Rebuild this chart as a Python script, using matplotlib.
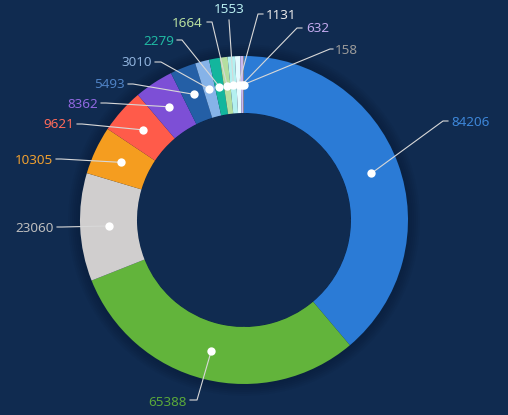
import matplotlib.pyplot as plt
import numpy as np

# slice values, clockwise from 12 o'clock
values = [84206, 65388, 23060, 10305, 9621, 8362, 5493, 3010, 2279, 1664, 1553, 1131, 632, 158]
slice_colors = ["#2b7bd6", "#62b43b", "#d0cece", "#f59d1f", "#ff5b4a", "#7d4fd6", "#245fa6",
                "#86b3e8", "#13b69d", "#b5dea0", "#b3f0f0", "#e6fbff", "#c9b7f0", "#9e9e9e"]
label_colors = ["#3d86d8", "#5aa83a", "#bdbdbd", "#f0a030", "#ff6a5a", "#9068e0", "#4f82c4",
                "#8fb2dc", "#20b8a2", "#b9e0a0", "#b8eef0", "#e8e8e8", "#c0a8ec", "#9a9a9a"]

# label layout in pixels: elbow point, end of the short leg, text anchor
elbows = [(443, 121), (197, 400), (62, 227), (61, 159), (82, 124), (106, 103), (133, 84),
          (161, 62), (182, 40), (212, 22), (229, 20), (258, 14), (297, 28), (330, 49)]
leg_ends = [(448, 121), (190, 400), (57, 227), (56, 159), (77, 124), (101, 103), (128, 84),
            (155, 62), (177, 40), (207, 22), (229, 20), (263, 14), (302, 28), (333, 49)]
text_pos = [(451, 122, "left"), (187, 402, "right"), (54, 228, "right"), (53, 160, "right"),
            (74, 124, "right"), (98, 104, "right"), (125, 84, "right"), (152, 62, "right"),
            (174, 41, "right"), (203, 23, "right"), (229, 9, "center"), (266, 15, "left"),
            (306, 28, "left"), (335, 50, "left")]

W, H = 508, 415
cx, cy, R, r_in = 244, 220, 164, 107
bg = "#102b50"


def px(x, y):
    return (x - cx) / R, (cy - y) / R


fig = plt.figure(figsize=(W / 100, H / 100), dpi=100, facecolor=bg)
ax = fig.add_axes([0, 0, 1, 1])
ax.set_facecolor(bg)
ax.axis("off")

# soft shadow around the outside of the ring
for k in range(6):
    rad = 1 + 0.012 * (k + 1)
    ax.pie([1], radius=rad, colors=["#08172e"],
           wedgeprops=dict(width=rad - r_in / R, alpha=0.08, linewidth=0))

wedges, _ = ax.pie(values, radius=1, startangle=90, counterclock=False, colors=slice_colors,
                   wedgeprops=dict(width=1 - r_in / R, linewidth=0))
ax.set_xlim(-cx / R, (W - cx) / R)
ax.set_ylim(-(H - cy) / R, cy / R)
ax.set_aspect("equal")

total = sum(values)
mid_r = (1 + r_in / R) / 2
start = 0
for i, v in enumerate(values):
    frac = (start + v / 2) / total
    start += v
    ang = np.pi / 2 - 2 * np.pi * frac
    dx, dy = mid_r * np.cos(ang), mid_r * np.sin(ang)
    ex, ey = px(*elbows[i])
    lx, ly = px(*leg_ends[i])
    ax.plot([dx, ex, lx], [dy, ey, ly], color="#d8d8d8", lw=0.8, zorder=5)
    ax.plot(dx, dy, "o", color="white", ms=6, mec="none", zorder=6)
    tx, ty = px(text_pos[i][0], text_pos[i][1])
    ax.text(tx, ty, str(v), color=label_colors[i], fontsize=9.7, family="Noto Sans",
            ha=text_pos[i][2], va="center", zorder=7)

fig.savefig("out.png", dpi=100, facecolor=bg)
